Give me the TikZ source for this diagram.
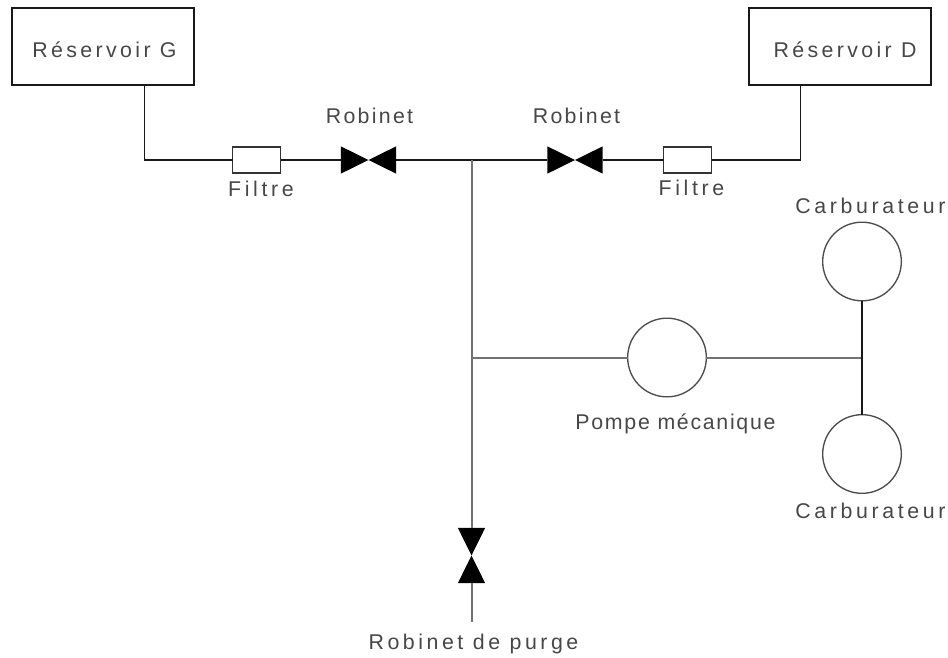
\documentclass[tikz,border=0pt]{standalone}
\usepackage{fontspec}
\setmainfont{Liberation Sans}
\begin{document}
\begin{tikzpicture}[x=0.75pt,y=-0.75pt,
  every node/.style={inner sep=0pt,outer sep=0pt},
  tank/.style={draw=black!90,line width=1.4pt,minimum width=137pt,minimum height=58pt},
  filterbox/.style={draw=black!80,line width=1.3pt,minimum width=36pt,minimum height=19pt},
  valvebox/.style={minimum width=41.5pt,minimum height=20.5pt},
  valvevert/.style={minimum width=20.5pt,minimum height=41.5pt},
  roundbox/.style={circle,draw=black!70,line width=1pt,minimum size=59pt},
  pipe/.style={draw=black!90,line width=1.4pt},
  lightpipe/.style={draw=black!55,line width=1.5pt},
  lbl/.style={text=black!72,font=\fontsize{16}{18}\selectfont\addfontfeatures{LetterSpace=#1},anchor=center}]
\useasboundingbox (0,0) rectangle (948,657);
\fill[white] (0,0) rectangle (948,657);
% tanks
\node[tank] (rg) at (103,46.5) {};
\node[tank] (rd) at (840,46.5) {};
\node[lbl=15.8] (rgl) at (104.5,50) {Réservoir G};
\node[lbl=15.8] (rdl) at (845,50) {Réservoir D};
% filters
\node[filterbox] (f1) at (256.5,160) {};
\node[filterbox] (f2) at (687.5,160) {};
\node[lbl=17] (f1l) at (261,189) {Filtre};
\node[lbl=17] (f2l) at (691.5,188) {Filtre};
% valves
\node[valvebox] (v1) at (368.5,160) {};
\node[valvebox] (v2) at (575,160) {};
\node[valvevert] (v3) at (471.5,555.5) {};
\foreach \v in {v1,v2}{
  \fill[black] (\v.north west) -- (\v.center) -- (\v.south west) -- cycle;
  \fill[black] (\v.north east) -- (\v.center) -- (\v.south east) -- cycle;
}
\fill[black] (v3.north west) -- (v3.center) -- (v3.north east) -- cycle;
\fill[black] (v3.south west) -- (v3.center) -- (v3.south east) -- cycle;
\node[lbl=10.7] (v1l) at (369.5,116) {Robinet};
\node[lbl=10.7] (v2l) at (576.5,116) {Robinet};
\node[lbl=16.6] (v3l) at (473.5,644) {Robinet de purge};
% round equipment
\node[roundbox] (pm) at (667,357.5) {};
\node[roundbox] (c1) at (862,261.5) {};
\node[roundbox] (c2) at (862,454) {};
\node[lbl=8] (pml) at (675.5,424) {Pompe mécanique};
\node[lbl=17] (c1l) at (870.5,206) {Carburateur};
\node[lbl=17] (c2l) at (870.5,511) {Carburateur};
% junctions
\coordinate (jg) at (144.5,160);
\coordinate (jd) at (800.5,160);
\coordinate (jt) at (471.5,160);
\coordinate (jp) at (471.5,357.5);
\coordinate (jc) at (862,357.5);
\coordinate (gb) at (144.5,86);
\coordinate (db) at (800.5,86);
\coordinate (end) at (471.5,622);
% connectors
\draw[pipe] (gb) -- (jg) -- (f1.west);
\draw[pipe] (f1.east) -- (v1.west);
\draw[pipe] (v1.east) -- (jt) -- (v2.west);
\draw[pipe] (v2.east) -- (f2.west);
\draw[pipe] (f2.east) -- (jd) -- (db);
\draw[lightpipe] (jt) -- (v3.north);
\draw[lightpipe] (v3.south) -- (end);
\draw[lightpipe] (jp) -- (pm.west);
\draw[lightpipe] (pm.east) -- (jc);
\draw[pipe] (c1.south) -- (c2.north);
\end{tikzpicture}
\end{document}
